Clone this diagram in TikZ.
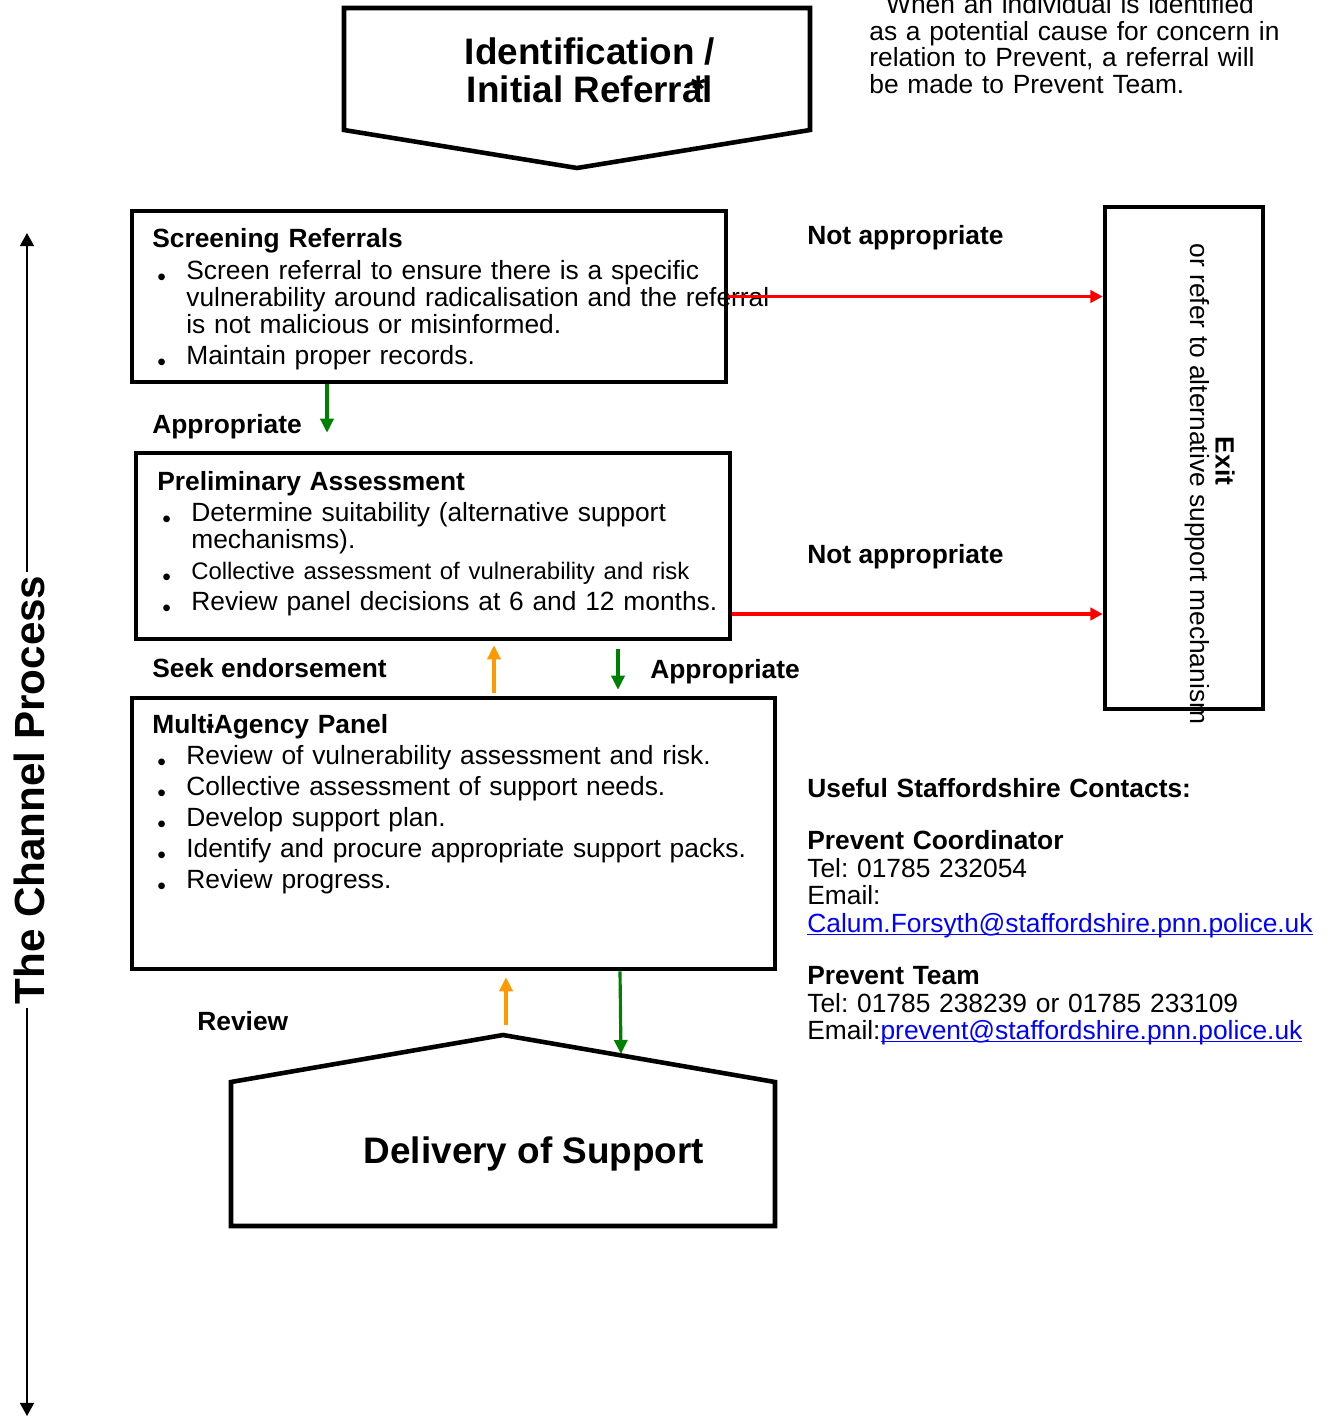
\documentclass[tikz,border=0pt]{standalone}
\usepackage{fontspec}
\setmainfont{Liberation Sans}
\usetikzlibrary{arrows.meta,positioning}
\definecolor{okgreen}{RGB}{0,128,0}
\definecolor{revorange}{RGB}{255,153,0}
\definecolor{linkblue}{RGB}{0,0,255}
\frenchspacing
\newcommand{\bodysize}{\fontsize{15}{15.3}\selectfont}
\newcommand{\itm}[1]{\par\hangindent=0.68cm\hangafter=1\noindent\hspace*{0.1cm}\makebox[0.58cm][l]{\raisebox{-3.5pt}{\fontsize{14}{14}\selectfont\textbullet}}{#1}}
\newcommand{\lnk}[1]{\leavevmode{\color{linkblue}\setbox0\hbox{#1}\rlap{\rule[-1.6pt]{\wd0}{0.7pt}}\box0}}

\begin{document}
\begin{tikzpicture}[x=0.02cm,y=-0.02cm,
	panel/.style={draw,line width=2.6pt,inner sep=0pt},
	boxtext/.style={anchor=north west,inner sep=0pt,align=left,text width=13cm,font=\bodysize,
		execute at begin node={\setlength{\parskip}{2.3pt}}},
	lbl/.style={anchor=base west,inner sep=0pt,font=\bodysize\bfseries},
	noarrow/.style={draw=red,line width=1.8pt,-{Triangle[width=7pt,length=7pt]}},
	yesarrow/.style={draw=okgreen,line width=1.8pt,-{Triangle[width=7.5pt,length=8pt]}},
	backarrow/.style={draw=revorange,line width=1.8pt,-{Triangle[width=7.5pt,length=8pt]}}]
	\useasboundingbox (0,0) rectangle (1335,1417);
	
	% side arrow
	\coordinate (chtop) at (27,233);
	\coordinate (chbot) at (27,1416);
	\draw[line width=1.1pt,{Triangle[width=8pt,length=7.5pt]}-{Triangle[width=8pt,length=7.5pt]}] (chtop) -- (chbot);
	\node[rotate=90,anchor=base,fill=white,inner sep=2pt,font=\fontsize{24}{26}\selectfont\bfseries] (chan) at (44,790) {The Channel Process};
	
	% top and bottom shapes
	\draw[panel] (344,8) -- (810,8) -- (810,130) -- (577,168) -- (344,130) -- cycle;
	\node[align=center,font=\fontsize{21}{21.5}\selectfont\bfseries] (ident) at (590,70) {Identification /\\Initial Referral\llap{\raisebox{0.5pt}{*}\kern0.2em}};
	\coordinate (peak) at (503,1035);
	\coordinate (roofhit) at (621,1054);
	\draw[panel] (231,1226) -- (231,1082) -- (peak) -- (775,1082) -- (775,1226) -- cycle;
	\node[anchor=base,font=\fontsize{21}{21.5}\selectfont\bfseries] (deliv) at (534,1163) {Delivery of Support};
	
	% boxes
	\node[panel,minimum width=594*0.02cm,minimum height=171*0.02cm] (screen) at (429,296.5) {};
	\node[panel,minimum width=594*0.02cm,minimum height=186*0.02cm] (prelim) at (433,546) {};
	\node[panel,minimum width=643*0.02cm,minimum height=271*0.02cm] (multi) at (453.5,833.5) {};
	\node[panel,minimum width=158*0.02cm,minimum height=502*0.02cm] (exit) at (1184,458) {};
	
	\node[boxtext] (screentxt) at (152,228) {{\bfseries Screening Referrals}\vspace{0.6pt}
		\itm{Screen referral to ensure there is a specific\newline vulnerability around radicalisation and the referral\newline is not malicious or misinformed.}
		\itm{Maintain proper records.}};
	\node[boxtext] (prelimtxt) at (157,471) {{\bfseries Preliminary Assessment}
		\itm{Determine suitability (alternative support\newline mechanisms).}
		\itm{\fontsize{13.6}{15.3}\selectfont Collective assessment of vulnerability and risk}
		\itm{Review panel decisions at 6 and 12 months.}};
	\node[boxtext] (multitxt) at (152,714) {{\bfseries Mult\rlap{i}\makebox[0.278em][c]{-}Agency Panel}
		\itm{Review of vulnerability assessment and risk.}
		\itm{Collective assessment of support needs.}
		\itm{Develop support plan.}
		\itm{Identify and procure appropriate support packs.}
		\itm{Review progress.}};
	\node[rotate=-90,inner sep=0pt,font=\bodysize\bfseries] (exitttl) at (1225,461) {Exit};
	\node[rotate=-90,inner sep=0pt,font=\bodysize] (exitsub) at (1197,484) {or refer to alternative support mechanism};
	
	% labels
	\node[lbl] (na1) at (807,244) {Not appropriate};
	\node[lbl] (na2) at (807,563) {Not appropriate};
	\node[lbl] (ap1) at (152,433) {Appropriate};
	\node[lbl] (ap2) at (650,678) {Appropriate};
	\node[lbl] (seek) at (152,677) {Seek endorsement};
	\node[lbl] (rev) at (197,1030) {Review};
	
	% footnote and contacts
	\node[boxtext] (foot) at (869,-9) {{\color{gray!60}\textsuperscript{*}} When an individual is identified\\as a potential cause for concern in\\relation to Prevent, a referral will\\be made to Prevent Team.};
	\node[boxtext,text width=11cm,font=\fontsize{15}{15.6}\selectfont] (contacts) at (807,778) {{\bfseries Useful Staffordshire Contacts:}\\[14.3pt]
		{\bfseries Prevent Coordinator}\\
		Tel: 01785 232054\\
		Email:\\
		\lnk{Calum.Forsyth@staffordshire.pnn.police.uk}\\[14.3pt]
		{\bfseries Prevent Team}\\
		Tel: 01785 238239 or 01785 233109\\
		Email:\lnk{prevent@staffordshire.pnn.police.uk}};
	
	% connectors
	\draw[noarrow] (screen.east) -- (screen.east -| exit.west);
	\draw[noarrow] (prelim.east |- 0,614) -- (exit.west |- 0,614);
	\draw[yesarrow,shorten >=18*0.02cm] (screen.south -| 327,0) -- (prelim.north -| 327,0);
	\draw[backarrow,shorten <=3*0.02cm,shorten >=4*0.02cm] (multi.north -| 494,0) -- (prelim.south -| 494,0);
	\draw[yesarrow,shorten <=8*0.02cm,shorten >=6*0.02cm] (prelim.south -| 618,0) -- (multi.north -| 618,0);
	\draw[backarrow,shorten <=10*0.02cm,shorten >=6*0.02cm] (peak -| 506,0) -- (multi.south -| 506,0);
	\draw[yesarrow] (multi.south -| 620,0) -- (roofhit);
\end{tikzpicture}
\end{document}
